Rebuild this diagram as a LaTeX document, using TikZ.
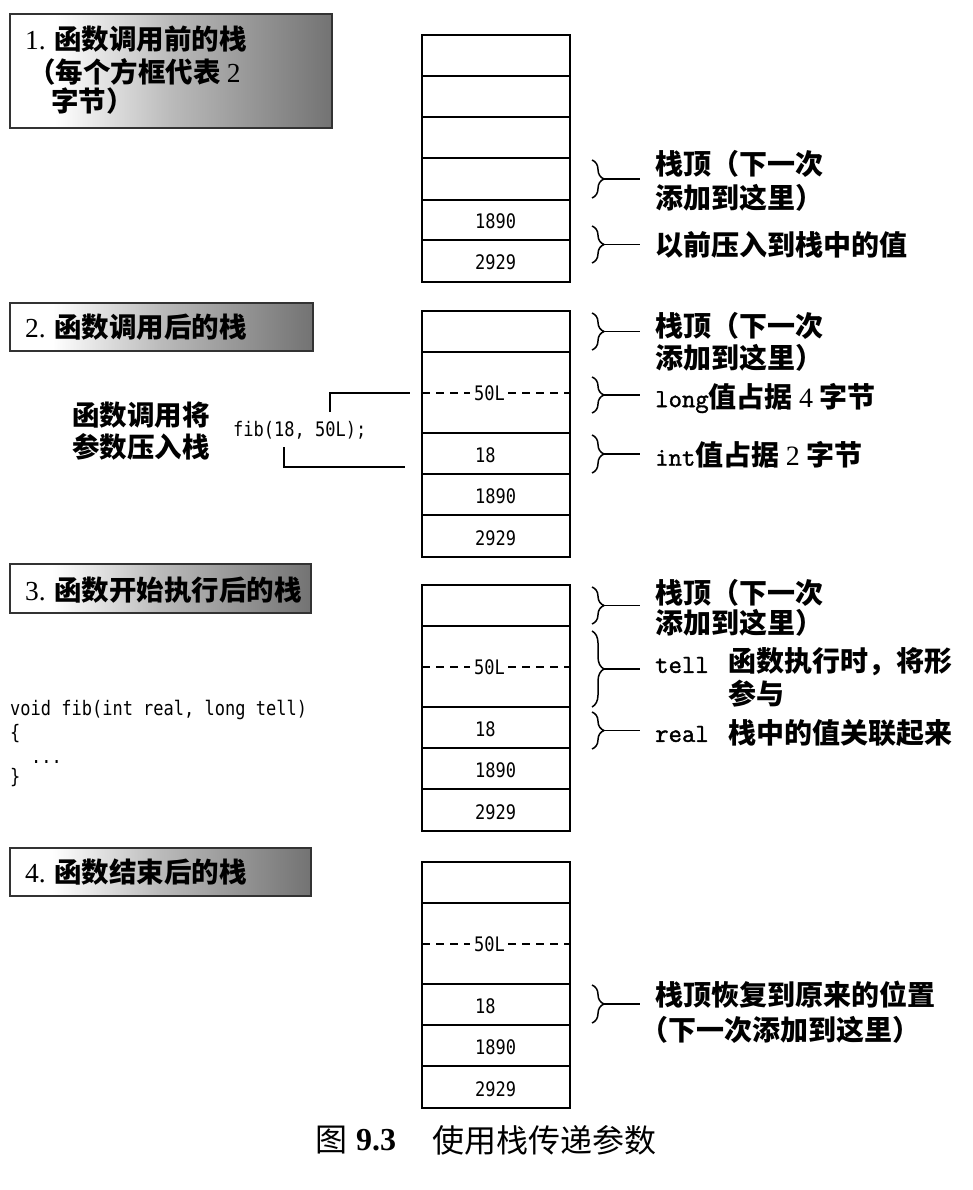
\documentclass[tikz,border=0pt]{standalone}
\usepackage{fontspec}
\setmainfont{Liberation Serif}
\newfontfamily\cjk{Noto Sans CJK SC}
\newfontfamily\mono{DejaVu Sans Mono}[FakeStretch=0.85]
\newfontfamily\cour{Latin Modern Mono}[FakeBold=1.5]
\usetikzlibrary{decorations.pathreplacing}
\pgfdeclarehorizontalshading{ttlshade}{100bp}{color(0bp)=(white); color(25bp)=(white); color(32bp)=(white); color(50bp)=(black!27); color(75bp)=(black!55); color(100bp)=(black!55)}
\newcommand\latn[1]{{\rmfamily\mdseries #1}}
\newcommand\kw[1]{{\cour\mdseries\fontsize{26}{28}\selectfont #1}}
\newcommand\drawstack[2]{%
  \draw[cell] (422,#2) rectangle (570,#2+246);
  \foreach \dd in {41,122,163,204} \draw[cell] (422,#2+\dd) -- (570,#2+\dd);
  \node[val] (#1L) at (474,#2+82) {50L};
  \draw[dsh] (422,#2+82) -- ([xshift=-4pt]#1L.west);
  \draw[dsh] ([xshift=3pt]#1L.east) -- (570,#2+82);
  \node[val] (#1a) at (475,#2+144) {18};
  \node[val] (#1b) at (475,#2+185) {1890};
  \node[val] (#1c) at (475,#2+227) {2929};
}
\begin{document}
\begin{tikzpicture}[x=1pt,y=-1pt,
  cell/.style={draw, line width=2.3pt},
  val/.style={font=\mono\fontsize{20}{22}\selectfont, anchor=west, inner sep=0pt},
  code/.style={font=\mono\fontsize{20}{22}\selectfont, anchor=west, inner sep=0pt},
  dsh/.style={line width=1.8pt, dash pattern=on 8pt off 6pt},
  brc/.style={decorate, decoration={brace, amplitude=12pt}, line width=1.5pt},
  lead/.style={line width=1.5pt},
  conn/.style={line width=1.3pt},
  lbl/.style={font=\fontsize{28}{32}\selectfont\cjk\bfseries, anchor=west, inner sep=0pt},
  ttl/.style={font=\fontsize{27.5}{32}\selectfont\cjk\bfseries, anchor=west, inner sep=0pt},
  captxt/.style={font=\fontsize{32}{36}\selectfont\cjk, anchor=west, inner sep=0pt},
  titlebox/.style={draw=black!80, line width=1.5pt, shading=ttlshade},
]
\useasboundingbox (0,0) rectangle (972,1190);
\fill[white] (0,0) rectangle (972,1190);

% ---------- title boxes ----------
\path[titlebox] (10,14) rectangle (332,128);
\node[ttl] (t1a) at (25,39) {\latn{1.} 函数调用前的栈};
\node[ttl] (t1b) at (28,72) {（每个方框代表 \latn{2}};
\node[ttl] (t1c) at (51,101) {字节）};

\path[titlebox] (10,303) rectangle (313,351);
\node[ttl] (t2) at (25,327) {\latn{2.} 函数调用后的栈};

\path[titlebox] (10,564) rectangle (311,613);
\node[ttl] (t3) at (25,590) {\latn{3.} 函数开始执行后的栈};

\path[titlebox] (10,848) rectangle (311,896);
\node[ttl] (t4) at (25,872) {\latn{4.} 函数结束后的栈};

% ---------- stack 1 ----------
\draw[cell] (422,35) rectangle (570,282);
\foreach \yy in {76,117,158,200,240} \draw[cell] (422,\yy) -- (570,\yy);
\node[val] (s1b) at (475,221) {1890};
\node[val] (s1c) at (475,262) {2929};

\draw[brc] (592,160) -- (592,198);
\coordinate (b1a) at (604,179); \coordinate (e1a) at (640,179);
\draw[lead] (b1a) -- (e1a);
\node[lbl] (l1a1) at (655,164) {栈顶（下一次};
\node[lbl] (l1a2) at (655,198) {添加到这里）};

\draw[brc] (592,226) -- (592,263);
\coordinate (b1b) at (604,244.5); \coordinate (e1b) at (640,244.5);
\draw[lead] (b1b) -- (e1b);
\node[lbl] (l1b) at (655,245) {以前压入到栈中的值};

% ---------- stack 2 ----------
\drawstack{s2}{311}
\draw[brc] (592,313) -- (592,350);
\coordinate (b2a) at (604,331.5); \coordinate (e2a) at (640,331.5);
\draw[lead] (b2a) -- (e2a);
\node[lbl] (l2a1) at (655,326) {栈顶（下一次};
\node[lbl] (l2a2) at (655,358) {添加到这里）};

\draw[brc] (592,377) -- (592,413);
\coordinate (b2b) at (604,395); \coordinate (e2b) at (640,395);
\draw[lead] (b2b) -- (e2b);
\node[lbl] (l2b) at (655,398) {\kw{long}值占据 \latn{4} 字节};

\draw[brc] (592,435) -- (592,473);
\coordinate (b2c) at (604,454); \coordinate (e2c) at (640,454);
\draw[lead] (b2c) -- (e2c);
\node[lbl] (l2c) at (655,455) {\kw{int}值占据 \latn{2} 字节};

\node[ttl] (push1) at (72,415) {函数调用将};
\node[ttl] (push2) at (72,447) {参数压入栈};
\node[code] (fib) at (233,430) {fib(18, 50L);};
\coordinate (f1) at (330,412); \coordinate (f1e) at (410,393);
\draw[conn] (f1) |- (f1e);
\coordinate (f2) at (284,447); \coordinate (f2e) at (405,467);
\draw[conn] (f2) |- (f2e);

% ---------- stack 3 ----------
\drawstack{s3}{585}
\draw[brc] (592,587) -- (592,624);
\coordinate (b3a) at (604,605.5); \coordinate (e3a) at (640,605.5);
\draw[lead] (b3a) -- (e3a);
\node[lbl] (l3a1) at (655,593) {栈顶（下一次};
\node[lbl] (l3a2) at (655,623) {添加到这里）};

\draw[brc] (592,631) -- (592,707);
\coordinate (b3b) at (604,669); \coordinate (e3b) at (640,669);
\draw[lead] (b3b) -- (e3b);
\node[lbl] (l3t) at (655,665) {\kw{tell}};
\node[lbl] (l3b1) at (728,662) {函数执行时，将形};
\node[lbl] (l3b2) at (728,694) {参与};

\draw[brc] (592,712) -- (592,749);
\coordinate (b3c) at (604,730.5); \coordinate (e3c) at (640,730.5);
\draw[lead] (b3c) -- (e3c);
\node[lbl] (l3r) at (655,734) {\kw{real}};
\node[lbl] (l3c) at (728,733) {栈中的值关联起来};

\node[code] (cd1) at (10,710) {void fib(int real, long tell)};
\node[code] (cd2) at (10,734) {\{};
\node[code] (cd3) at (31,762) {...};
\node[code] (cd4) at (10,778) {\}};

% ---------- stack 4 ----------
\drawstack{s4}{862}
\draw[brc] (592,985) -- (592,1023);
\coordinate (b4) at (604,1004); \coordinate (e4) at (640,1004);
\draw[lead] (b4) -- (e4);
\node[lbl] (l4a) at (655,995) {栈顶恢复到原来的位置};
\node[lbl] (l4b) at (640,1030) {（下一次添加到这里）};

% ---------- caption ----------
\node[captxt] (cap1) at (315,1140) {图};
\node[captxt] (cap2) at (356,1140) {\rmfamily\bfseries 9.3};
\node[captxt] (cap3) at (432,1140) {使用栈传递参数};
\end{tikzpicture}
\end{document}
